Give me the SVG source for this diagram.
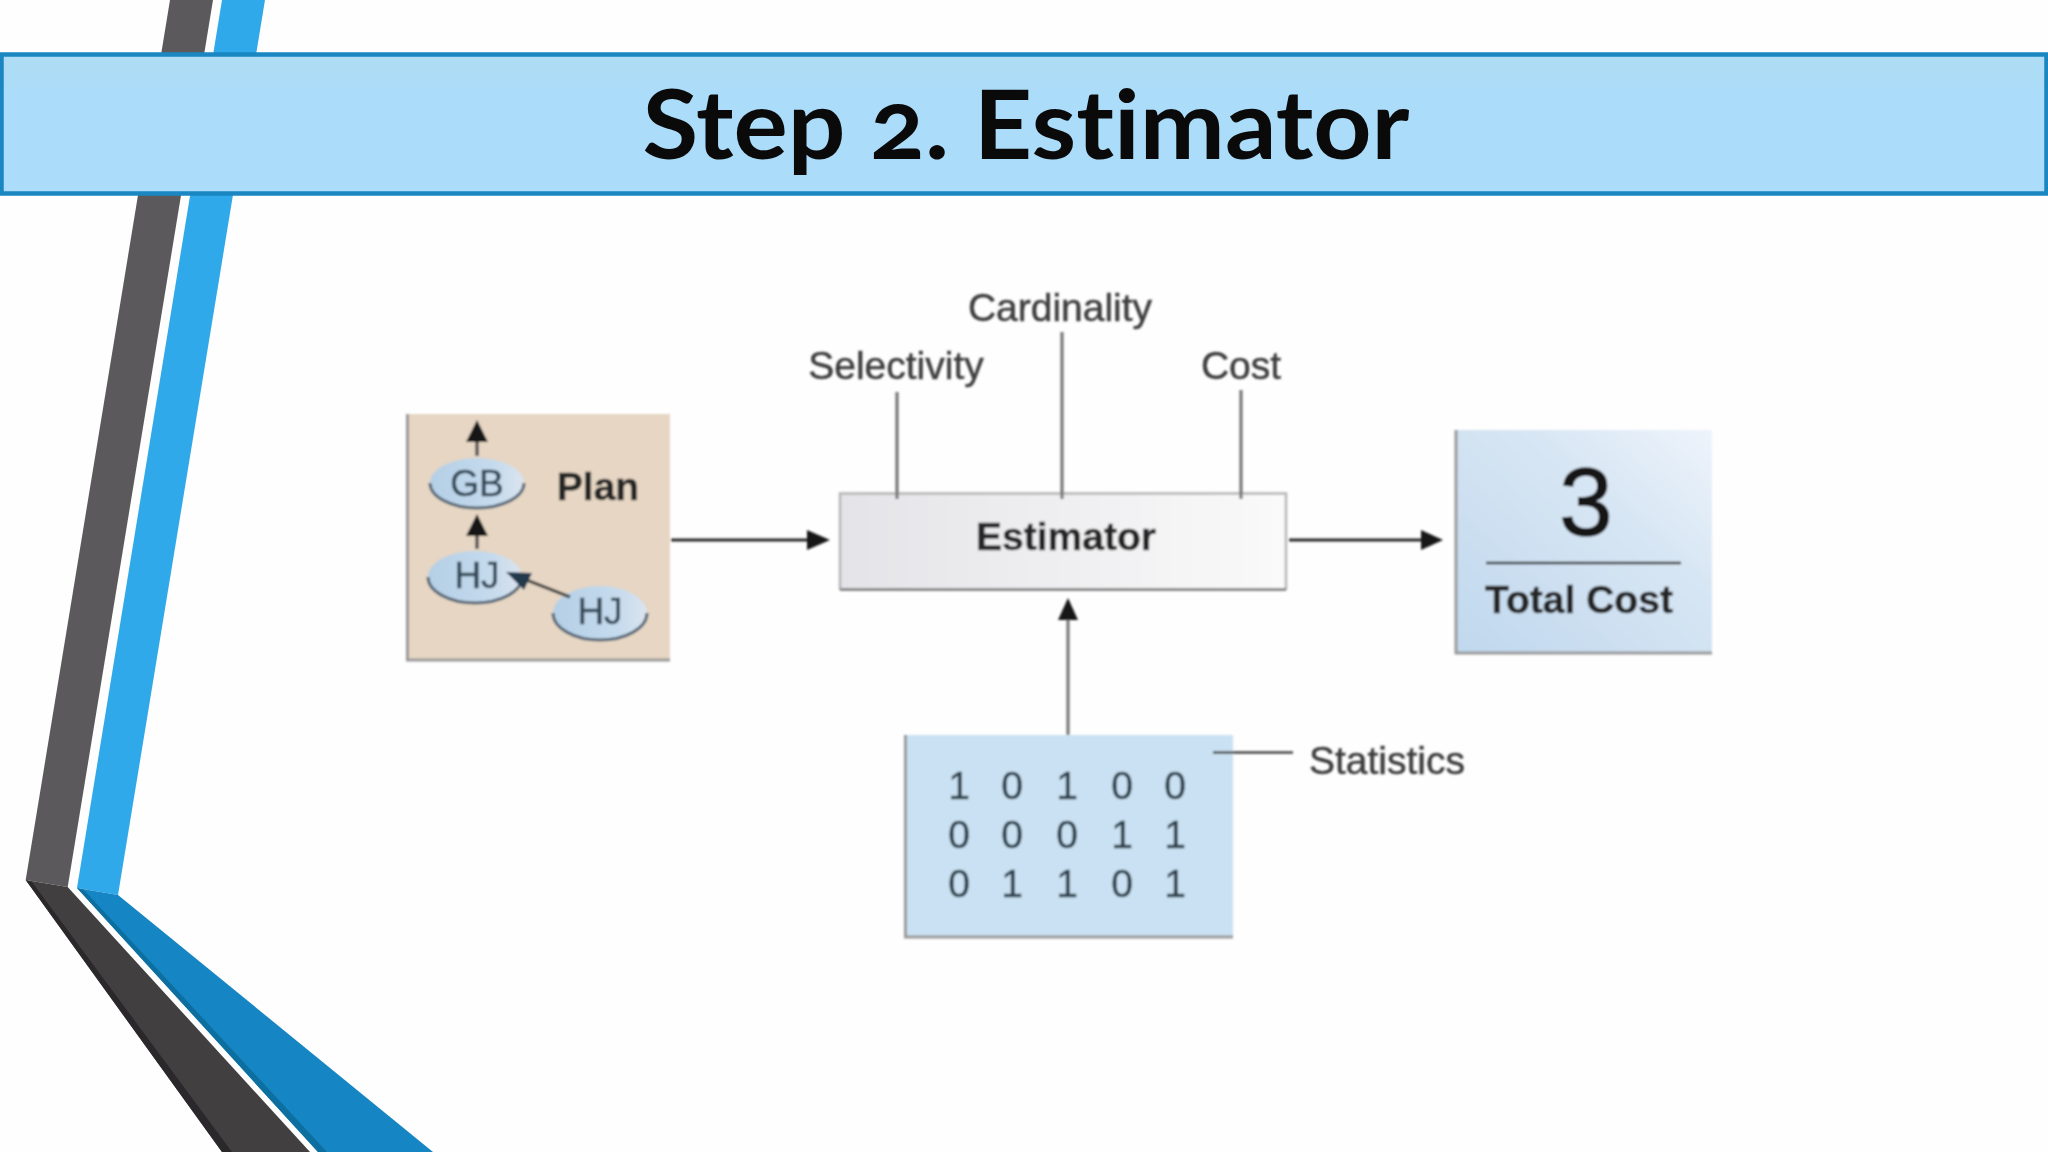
<svg xmlns="http://www.w3.org/2000/svg" width="2048" height="1152" viewBox="0 0 2048 1152">
<style>
.t{font-family:"Liberation Sans",Arial,sans-serif;font-size:39px;fill:#3d3d3d;stroke:#3d3d3d;stroke-width:.5;text-anchor:middle}
.b{font-weight:700;fill:#262626;stroke:#262626}
.d{fill:#2f414e;stroke:#2f414e;font-size:39px}
.e{fill:#34495a;stroke:#34495a;font-size:37px}
.box{stroke:none}
.edge{stroke:#9a9a9a;stroke-width:3;fill:none}
.ln{stroke:#777;stroke-width:3.2;fill:none}
.ar{stroke:#2a2a2a;stroke-width:3;fill:none}
.hd{fill:#151515}
.oval{fill:url(#ov);stroke:none}
.ovs{fill:none;stroke:#566878;stroke-width:3}
</style>
<defs>
<linearGradient id="hdr" x1="0" y1="0" x2="0" y2="1"><stop offset="0" stop-color="#aedcf3"/><stop offset=".3" stop-color="#abdcf9"/><stop offset="1" stop-color="#abdcf9"/></linearGradient>
<linearGradient id="est" x1="0" y1="0" x2="1" y2="0"><stop offset="0" stop-color="#e4e4e8"/><stop offset="1" stop-color="#fafafa"/></linearGradient>
<linearGradient id="tot" x1="0" y1="1" x2="1" y2="0"><stop offset="0" stop-color="#c0d8ee"/><stop offset=".65" stop-color="#d8e6f4"/><stop offset="1" stop-color="#eef4fb"/></linearGradient>
<linearGradient id="ov" x1="0" y1="0" x2="1" y2="0"><stop offset="0" stop-color="#b4cfe6"/><stop offset=".7" stop-color="#c6dbed"/><stop offset="1" stop-color="#dbe4ee"/></linearGradient>
<filter id="soft" x="-5%" y="-5%" width="110%" height="110%"><feGaussianBlur stdDeviation="0.8"/></filter>
</defs>
<rect width="2048" height="1152" fill="#fefefe"/>
<g id="decor">
<polygon points="170,0 213,0 67.7,887 25.7,880" fill="#5b595b"/>
<polygon points="222,0 265,0 118,895 77,888" fill="#30a9ea"/>
<polygon points="25.7,880 67.7,887 310,1152 222,1152" fill="#423f41"/>
<polygon points="25.7,880 32,882 232,1152 222,1152" fill="#2a282a"/>
<polygon points="77,888 118,895 433,1152 318,1152" fill="#1585c3"/>
<polygon points="77,888 84,890 327,1152 318,1152" fill="#0d6f9f"/>
</g>
<g id="title">
<rect x="1.5" y="54.500" width="2045" height="139" fill="url(#hdr)" stroke="#1a87c2" stroke-width="4.500"/>
<text x="1026" y="159" font-family="Lato,'Open Sans',sans-serif" font-weight="700" font-size="96" fill="#0a0a0a" text-anchor="middle" textLength="767" lengthAdjust="spacingAndGlyphs" style="font-variant-numeric:oldstyle-nums;font-variant-ligatures:none">Step 2. Estimator</text>
</g>
<g filter="url(#soft)">
<g id="plan">
<rect class="box" x="407" y="414" width="263" height="246" fill="#e6d6c3"/>
<path class="edge" d="M407.500 414V660H670"/>
<text class="t b" x="598" y="500">Plan</text>
</g>
<g id="gb">
<ellipse class="oval" cx="477" cy="483" rx="47" ry="25"/>
<path class="ovs" d="M430 483A47 25 0 0 0 524 483"/>
<text class="t e" x="477" y="496">GB</text>
</g>
<g id="hj1">
<ellipse class="oval" cx="475" cy="577" rx="47" ry="26"/>
<path class="ovs" d="M428 577A47 26 0 0 0 522 577"/>
<text class="t e" x="477" y="588">HJ</text>
</g>
<g id="hj2">
<ellipse class="oval" cx="600" cy="613" rx="47" ry="27"/>
<path class="ovs" d="M553 613A47 27 0 0 0 647 613"/>
<text class="t e" x="600" y="624">HJ</text>
</g>
<g id="estimator">
<rect class="box" x="840" y="493" width="446" height="96" fill="url(#est)"/>
<path d="M840 590V493.500H1286V590" fill="none" stroke="#b5b5b5" stroke-width="2.500"/>
<path class="edge" d="M840 589.500H1286" style="stroke:#8a8a8a"/>
<text class="t b" x="1066" y="550">Estimator</text>
</g>
<g id="total">
<rect class="box" x="1456" y="430" width="256" height="223" fill="url(#tot)"/>
<path class="edge" d="M1456 430V653H1712" stroke="#8e9aa5"/>
<text class="t" x="1586" y="535" style="font-size:96px;fill:#151515;stroke:#151515;stroke-width:1.500">3</text>
<line x1="1486" y1="563" x2="1681" y2="563" stroke="#333" stroke-width="2.500"/>
<text class="t b" x="1579" y="613">Total Cost</text>
</g>
<g id="stats">
<rect class="box" x="905" y="735" width="328" height="202" fill="#c9e1f2"/>
<path class="edge" d="M905.500 735V937H1233" stroke="#8aa0b0"/>
<g class="t d">
<text x="959" y="799">1</text><text x="1012" y="799">0</text><text x="1067" y="799">1</text><text x="1122" y="799">0</text><text x="1175" y="799">0</text>
<text x="959" y="848">0</text><text x="1012" y="848">0</text><text x="1067" y="848">0</text><text x="1122" y="848">1</text><text x="1175" y="848">1</text>
<text x="959" y="897">0</text><text x="1012" y="897">1</text><text x="1067" y="897">1</text><text x="1122" y="897">0</text><text x="1175" y="897">1</text>
</g>
</g>
<g id="labels">
<text class="t" x="1060" y="321">Cardinality</text>
<text class="t" x="896" y="379">Selectivity</text>
<text class="t" x="1241" y="379">Cost</text>
<text class="t" x="1387" y="774">Statistics</text>
</g>
<g id="connectors">
<path class="ln" d="M897 392V499M1062 332V499M1241 390V499"/>
<path class="ln" d="M1068 735V615"/>
<path class="hd" d="M1068 598L1078 620H1058Z"/>
<path class="ln" style="stroke:#444;stroke-width:2.500" d="M1213 752.500H1293"/>
<path class="ar" d="M671 540H812"/><path class="hd" d="M830 540L807 530V550Z"/>
<path class="ar" d="M1289 540H1425"/><path class="hd" d="M1443 540L1421 530V550Z"/>
<path class="ar" style="stroke:#555;stroke-width:3.500" d="M477 456V438"/><path class="hd" d="M477 420L488 442H466Z"/>
<path class="ar" style="stroke:#555;stroke-width:3.500" d="M477 549V532"/><path class="hd" d="M477 514L488 536H466Z"/>
<path class="ar" style="stroke:#444" d="M570 597L524 579"/><path class="hd" style="fill:#24394c" d="M506 572L532 573L524 590Z"/>
</g>
</g>
</svg>
